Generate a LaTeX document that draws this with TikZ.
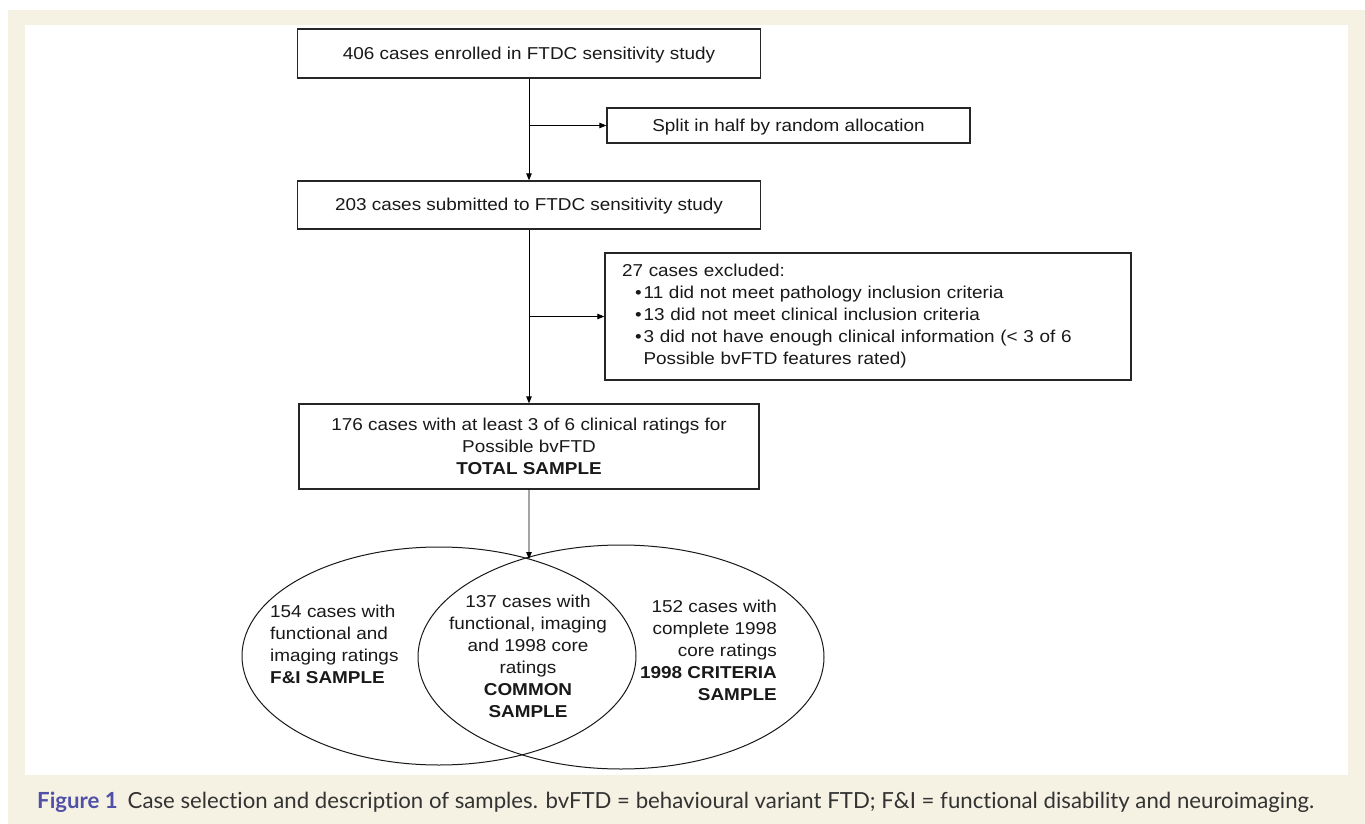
\documentclass[tikz,border=0pt]{standalone}
\usepackage{fontspec}
\setmainfont{Liberation Sans}[FakeStretch=1.1]
\newfontfamily\captionfont{Lato}[Ligatures=NoCommon]
\usetikzlibrary{arrows.meta,intersections}
\definecolor{pagebeige}{HTML}{F5F1E3}
\definecolor{figblue}{HTML}{5050A8}
\definecolor{captext}{HTML}{333333}
\begin{document}
\begin{tikzpicture}[x=1pt,y=-1pt,
    box/.style={rectangle, draw=black!85, line width=1.3pt, inner sep=0pt, text=black!90, font=\fontsize{17.2}{22}\selectfont, align=center},
    vennlabel/.style={inner sep=0pt, text=black!90, font=\fontsize{17.2}{22}\selectfont},
    arr/.style={-{Triangle[length=7pt,width=5.5pt]}, line width=0.85pt},
    venn/.style={draw=black!90, line width=1pt}]
    \useasboundingbox (0,0) rectangle (1365,824);
    \fill[pagebeige] (8,10) rectangle (1365,824);
    \fill[white] (25,25) rectangle (1348,775);

    % flow boxes
    \node[box, minimum width=463pt, minimum height=49pt, text depth=1pt] (enrolled) at (529,53.5) {406 cases enrolled in FTDC sensitivity study};
    \node[box, minimum width=363pt, minimum height=35pt, text depth=1pt] (split) at (788.5,125.5) {Split in half by random allocation};
    \node[box, minimum width=463pt, minimum height=48pt, text depth=1pt] (submitted) at (529,205) {203 cases submitted to FTDC sensitivity study};
    \node[box, align=left, inner xsep=17pt, text width=492pt, minimum height=127pt] (excluded) at (868,316.5) {27 cases excluded:\\
        \hspace*{13pt}\textbullet\hspace{2pt}11 did not meet pathology inclusion criteria\\
        \hspace*{13pt}\textbullet\hspace{2pt}13 did not meet clinical inclusion criteria\\
        \hspace*{13pt}\textbullet\hspace{2pt}3 did not have enough clinical information (< 3 of 6\\
        \hspace*{21.5pt}Possible bvFTD features rated)};
    \node[box, minimum width=460pt, minimum height=85pt] (total) at (529,446.5) {176 cases with at least 3 of 6 clinical ratings for\\Possible bvFTD\\\textbf{TOTAL SAMPLE}};

    % venn of samples
    \draw[venn, name path=fiell] (439,656) ellipse [x radius=197pt, y radius=109pt];
    \draw[venn] (621,657) ellipse [x radius=203pt, y radius=112pt];
    \node[vennlabel, anchor=west, align=left] (fi) at (270,644) {154 cases with\\functional and\\imaging ratings\\\textbf{F\&I SAMPLE}};
    \node[vennlabel, align=center] (common) at (528,656) {137 cases with\\functional, imaging\\and 1998 core\\ratings\\\textbf{COMMON}\\\textbf{SAMPLE}};
    \node[vennlabel, anchor=east, align=right] (criteria) at (777,650) {152 cases with\\complete 1998\\core ratings\\\textbf{1998 CRITERIA}\\\textbf{SAMPLE}};

    \path[name path=stem] (total.south) -- ++(0,120);
    \path[name intersections={of=stem and fiell, by=venntop}];

    \draw[arr] (enrolled.south) -- (submitted.north);
    \draw[arr] (enrolled.south |- split.west) -- (split.west);
    \draw[arr] (submitted.south) -- (total.north);
    \draw[arr] (submitted.south |- excluded.west) -- (excluded.west);
    \draw[arr] (total.south) -- (venntop);

    % caption
    \node[anchor=base west, inner sep=0pt, text=captext, font=\captionfont\fontsize{22.2}{26}\selectfont] (caption) at (37,808) {\textcolor{figblue}{\textbf{Figure 1}}\hspace{10pt}Case selection and description of samples. bvFTD = behavioural variant FTD; F\&I = functional disability and neuroimaging.};
\end{tikzpicture}
\end{document}
